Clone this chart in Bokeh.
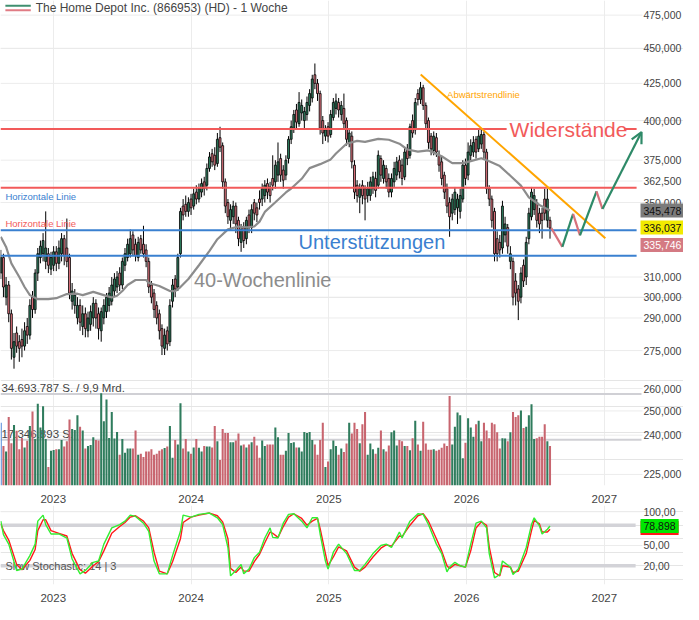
import numpy as np
import pandas as pd
from bokeh.plotting import figure
from bokeh.layouts import column
from bokeh.models import (Range1d, FixedTicker, CustomJSTickFormatter, Label,
                          Arrow, OpenHead)
from bokeh.embed import file_html
from bokeh.resources import INLINE
from bokeh.core.properties import value

# ---------------- data ----------------
week_start = "2022-08-15"
n_weeks = 209

opens = [312,320,300,306,292,272,283,279,280,277, 286,282,300,294,312,320,322,318,322,314,
         316,323,317,322,330,325,320,298,296,290, 296,286,292,284,287,290,297,292,284,290,
         293,296,298,303,305,312,306,316,320,322, 332,327,320,330,327,324,318,306,302,296,
         292,285,276,284,279,298,309,305,322,348, 349,345,352,348,356,352,356,362,360,370,
         379,378,373,389,384,362,350,340,342,348, 340,328,336,330,343,336,350,347,352,352,
         354,361,359,364,362,366,376,369,366,376, 388,395,407,398,405,400,404,410,415,431,
         425,418,400,390,396,391,402,408,412,404, 408,400,386,390,372,360,353,360,358,354,
         354,358,364,360,376,364,370,364,356,362, 366,375,372,365,382,378,400,394,418,414,
         422,410,400,390,381,389,378,374,366,358, 350,344,346,347,345,352,372,366,378,380,
         388,382,385,391,380,358,352,345,330,328, 325,332,336,318,318,308,304,300,316,310,
         330,342,346,350,344,344,352,340,340]
highs = [324,322,310,308,294,283,286,282,285,288, 290,299,303,314,325,329,333,345,325,323,
         326,326,329,333,332,341,322,307,304,300, 299,296,295,293,296,300,299,295,295,299,
         302,305,310,312,313,315,320,325,330,335, 334,330,331,332,337,327,320,308,304,298,
         294,287,285,286,299,309,311,322,347,352, 354,353,355,358,360,361,364,365,373,380,
         382,383,392,396,386,364,352,349,351,350, 342,338,339,342,346,349,352,350,357,361,
         363,364,362,378,375,386,379,372,378,390, 400,407,411,419,414,409,416,421,431,439,
         428,420,403,397,399,407,415,418,415,413, 418,402,395,393,375,363,361,363,360,362,
         365,368,368,381,378,375,372,367,367,374, 377,378,376,383,385,398,404,415,421,426,
         424,412,402,392,393,392,381,377,368,361, 353,355,359,355,358,375,376,386,388,390,
         390,394,395,393,382,360,354,347,334,332, 351,342,338,326,320,312,306,315,319,331,
         347,359,358,352,347,347,358,358,342]
lows = [309,300,296,288,271,267,274,270,272,275, 278,280,290,292,308,317,318,314,312,311,
        313,313,314,318,316,315,299,294,292,287, 284,282,281,281,284,286,285,280,279,287,
        290,293,296,300,302,303,304,313,318,320, 321,318,318,322,320,315,302,297,290,287,
        280,273,273,275,277,295,300,303,320,340, 342,342,343,346,349,350,353,354,357,368,
        371,369,371,380,358,344,338,335,338,333, 326,323,325,327,333,333,340,339,346,348,
        350,352,350,357,358,362,362,358,363,373, 385,392,395,396,400,395,400,406,412,421,
        413,391,385,387,386,389,400,404,402,400, 395,384,383,370,352,350,344,349,340,350,
        351,355,353,358,362,361,358,353,353,359, 363,364,360,363,372,376,389,391,410,411,
        407,394,382,378,378,377,368,360,352,344, 331,340,343,338,341,350,360,363,375,377,
        376,380,382,376,355,348,336,318,318,320, 322,328,322,314,296,296,289,297,305,306,
        327,340,343,336,333,330,340,336,330]
closes = [320,305,306,292,276,279,277,276,277,284, 282,296,294,312,322,326,329,325,316,320,
          323,317,325,330,321,318,302,303,301,296, 288,292,285,290,293,297,290,285,293,296,
          300,302,306,309,310,306,318,322,327,330, 324,321,328,324,322,318,305,300,294,290,
          284,277,282,278,296,306,304,320,345,343, 345,350,347,355,352,358,361,358,370,377,
          374,372,388,383,362,348,342,346,348,338, 330,335,329,340,336,346,344,343,350,358,
          360,356,354,360,372,374,366,363,375,388, 396,404,399,412,410,406,412,418,428,425,
          418,395,392,394,390,404,412,413,407,410, 398,388,392,374,356,354,358,354,352,358,
          362,365,357,378,366,372,362,356,364,370, 374,368,364,380,376,396,392,412,414,422,
          410,398,386,382,390,380,372,364,356,348, 342,352,356,352,354,372,364,380,384,386,
          380,390,391,380,358,352,340,322,322,324, 348,338,326,322,300,302,298,312,308,328,
          344,356,354,340,338,340,344,352,335.746]
volumes_m = [23.8,15.0,12.9,26.0,16.0,23.0,20.8,13.8,18.0,14.4, 17.0,22.6,28.1,17.6,31.0,22.0,30.1,17.6,7.0,13.2,
             13.5,13.8,13.8,17.3,14.8,16.8,25.0,21.4,21.1,26.7, 22.3,20.9,14.0,15.0,15.4,18.3,17.3,17.1,35.0,24.4,
             32.6,18.0,27.9,17.8,20.3,11.7,17.6,12.4,14.0,14.0, 14.0,20.9,11.7,12.0,10.8,12.9,12.9,13.8,11.7,12.0,
             13.2,13.8,14.2,14.8,22.6,10.5,17.3,15.6,31.2,14.0, 17.6,12.9,12.0,14.4,17.6,14.3,12.9,15.0,14.8,14.8,
             14.4,22.6,16.8,9.7,21.4,19.9,19.9,16.4,16.4,17.1, 19.7,15.2,15.6,14.4,15.6,16.4,18.5,15.2,10.5,17.1,
             15.0,15.6,15.6,15.6,22.0,18.3,11.7,11.7,13.2,19.9, 16.1,16.4,14.4,14.4,12.9,20.3,19.9,20.3,17.3,15.6,
             11.7,17.3,23.8,7.0,9.1,13.8,17.1,15.0,11.7,14.0, 12.7,15.9,23.8,19.7,23.8,21.4,16.0,23.2,27.9,11.7,
             15.9,13.8,12.0,14.3,20.9,13.8,12.9,15.2,20.2,20.9, 15.2,17.3,16.8,15.0,15.0,13.4,17.9,24.6,15.6,13.2,
             24.2,15.9,13.6,13.6,13.8,13.2,13.6,14.3,15.9,15.0, 34.0,15.6,22.3,27.7,26.7,10.3,16.2,25.5,22.0,18.5,
             23.2,24.6,16.8,23.8,20.9,17.9,23.8,23.2,20.2,14.0, 17.9,17.8,16.8,20.2,27.9,26.0,26.7,28.5,21.8,22.3,
             26.7,30.8,17.6,17.9,18.5,18.5,23.2,16.8,15.0]

ma_weeks = [0,2,4,7,9,11,14,18,21,25, 29,31,35,39,42,44,46,48,51,55, 56,60,64,66,68,71,75,79,82,86,
            90,93,96,98,100,104,108,110,114,117, 121,125,127,131,135,138,143,147,151,154,
            158,162,163,167,171,175,178,182,185,189, 193,197,200,204,208]
ma_values = [331,325.6,317,310,305,301,299,299,299.5,301.5, 301.7,301,302.6,301,299.8,300.7,303,306,308.5,308.5,
             307,305.5,303,303,305,309,316,323.5,329.7,335, 336.6,336.1,336.6,339.3,344.7,350.2,355.8,358.1,363.8,370.2,
             372.6,375.5,379.1,385.2,387,386.4,388.3,387.7,385.2,381.6, 380.3,381,380.3,377.4,373.2,373.2,374.4,376.2,374.4,371.4,
             365.6,359.8,353,348.6,345.478]

stoch_weeks = [0,1,3,6,8,11,13,14,16,17, 19,22,25,27,30,32,35,37,39,42, 45,47,49,51,54,56,58,60,63,65,
               68,69,72,75,79,82,84,86,87,89, 91,92,94,96,98,100,102,103,105,107, 109,111,114,116,118,120,121,123,124,126,
               128,131,134,136,138,141,144,146,148,151, 152,155,158,160,162,165,167,169,170,172,
               174,176,178,180,182,184,185,187,189,190, 193,194,196,199,201,202,204,205,207,208]
stoch_k = [86,66,52,13,15,35,52,86,95,81, 67,67,61,30,8,13,25,27,52,76, 81,86,95,93,83,71,27,8,8,35,
           71,95,92,96,98,91,81,47,5,13, 22,8,15,32,40,61,76,62,61,83, 96,97,86,76,91,91,67,27,15,40,
           52,38,13,13,22,38,50,52,47,70, 61,86,97,96,81,52,38,11,18,25, 20,18,52,83,86,76,38,2,7,27,
           18,7,15,47,81,91,79,67,74,78.898]
stoch_d = [82,72,58,22,14,28,44,72,88,88, 72,68,64,38,14,9,20,26,42,68, 78,84,92,94,86,76,40,12,8,26,
           60,84,92,95,98,94,85,60,16,10, 18,12,12,26,37,54,70,68,62,78, 92,97,90,80,86,90,75,38,20,33,
           48,42,18,12,18,33,46,51,49,64, 63,80,94,97,86,60,42,20,16,22, 20,18,42,76,85,80,48,10,5,20,
           18,10,12,38,72,87,82,70,70,74]

resistance_levels = [394.5, 358.5]
support_levels = [334.5, 321.0]
trend_years = [2025.667, 2027.007]
trend_prices = [431.2, 330.2]
proj_years = [2026.615, 2026.695, 2026.773, 2026.823, 2026.943, 2026.986, 2027.270]
proj_prices = [335.7, 325.6, 343.6, 331.8, 356.4, 346.4, 392.6]

price_ticks = [275, 290, 300, 310, 350, 362.5, 375, 400, 425, 450, 475]
price_tick_labels = ["275,000", "290,000", "300,000", "310,000", "350,000", "362,500",
                     "375,000", "400,000", "425,000", "450,000", "475,000"]
vol_tick_values_m = [36.8, 28.3, 19.1, 4.2]
vol_tick_labels = ["260,000", "250,000", "240,000", "225,000"]
stoch_ticks = [100, 50, 20]
stoch_tick_labels = ["100,00", "50,00", "20,00"]
year_ticks = [2023, 2024, 2025, 2026, 2027]

last_price = 336.037
last_close = 335.746
ma_last = 345.478
stoch_last = 78.898
vol_ref = 34693787

# ---------------- helpers ----------------
FONT = "Liberation Sans"
X0 = 2022.617
XE = X0 + 699 / 141.0        # frame spans the full width, like the reference
def rx(px):  # reference pixel -> decimal year
    return X0 + px / 141.0
def rp(py):  # reference pixel -> price (log scale)
    return 475.0 * np.exp(-(py - 15) / 630.0)

dates = pd.date_range(week_start, periods=n_weeks, freq="7D")
xs = np.array(dates.year + (dates.dayofyear - 1) / np.where(dates.is_leap_year, 366.0, 365.0))
wk = 7 / 365.25

G, R = "#2e7d5e", "#dd727c"
VG, VR = "#2f7c5d", "#c8656f"
RED_L, BLUE_L = "#f25a5a", "#3a80d0"
TXT = "#444444"
GRID = "#ececec"

o = np.array(opens, float); c = np.array(closes, float)
h = np.array(highs, float); l = np.array(lows, float)
up = c >= o
cand_col = [G if u else R for u in up]
vol_col = [VG if u else VR for u in up]
vol_col[0] = "#5f93dc"

xr = Range1d(X0, XE)
X_LINE_END = rx(657)

def style(p):
    p.outline_line_color = None
    p.background_fill_color = "white"
    p.border_fill_color = "white"
    p.xgrid.ticker = FixedTicker(ticks=year_ticks)
    p.xgrid.grid_line_color = GRID
    ax = p.xaxis[0]
    ax.ticker = FixedTicker(ticks=year_ticks)
    ax.formatter = CustomJSTickFormatter(code="return tick.toFixed(0);")
    ax.axis_line_color = None
    ax.major_tick_line_color = None
    ax.minor_tick_line_color = None
    ax.major_label_standoff = 3
    ax.major_label_text_font = FONT
    ax.major_label_text_font_size = "11.5px"
    ax.major_label_text_color = TXT

def hgrid(p, ys):
    n = len(ys)
    p.segment(x0=[X0] * n, y0=ys, x1=[X_LINE_END] * n, y1=ys, line_color=GRID, line_width=1)

def ticklabels(p, ys, labels):
    p.text(x=[rx(658)] * len(ys), y=ys, text=labels, text_font=value(FONT),
           text_font_size="10.5px", text_color=TXT, text_baseline="middle", text_align="left")

def box(p, y, text, bg, fg):
    p.add_layout(Label(x=rx(655), y=y, text=text, text_align="left",
                       text_baseline="middle", text_font=FONT, text_font_size="10.5px",
                       text_color=fg, background_fill_color=bg, padding=3))

common = dict(width=683, x_range=xr, toolbar_location=None, output_backend="svg",
              y_axis_location=None, min_border_left=0, min_border_right=0,
              min_border_top=0, min_border_bottom=0)

# ---------------- price panel ----------------
p1 = figure(height=378, y_range=Range1d(rp(388), rp(0)), y_axis_type="log", **common)
style(p1)
p1.xaxis.visible = False
hgrid(p1, price_ticks)

p1.segment(x0=xs, y0=l, x1=xs, y1=h, line_color="black", line_width=1)
p1.vbar(x=xs, width=0.74 * wk, top=np.maximum(o, c), bottom=np.minimum(o, c),
        fill_color=cand_col, line_color="black", line_width=0.8)

p1.line([xs[w] for w in ma_weeks], ma_values, line_color="#8c8c8c", line_width=2.2)

# horizontal levels
p1.segment(x0=[X0, rx(638)], y0=[resistance_levels[0]] * 2, x1=[rx(518), rx(651)],
           y1=[resistance_levels[0]] * 2, line_color=RED_L, line_width=2)
p1.segment(x0=[X0], y0=[resistance_levels[1]], x1=[rx(651)], y1=[resistance_levels[1]],
           line_color=RED_L, line_width=2)
p1.segment(x0=[X0, X0], y0=support_levels, x1=[rx(651)] * 2, y1=support_levels,
           line_color=BLUE_L, line_width=2)

# trendline
p1.line(trend_years, trend_prices, line_color="#ffa500", line_width=2)

# projection path
seg_cols = ["#d7727c", "#2e8a68", "#d7727c", "#2e8a68", "#d7727c"]
p1.segment(x0=proj_years[:5], y0=proj_prices[:5], x1=proj_years[1:6], y1=proj_prices[1:6],
           line_color=seg_cols, line_width=2.2)
p1.add_layout(Arrow(end=OpenHead(size=11, line_color="#2e8a68", line_width=2.2),
                    x_start=proj_years[5], y_start=proj_prices[5],
                    x_end=proj_years[6], y_end=proj_prices[6],
                    line_color="#2e8a68", line_width=2.2))

def ptext(x, y, t, size, color, align="left"):
    p1.text(x=[x], y=[y], text=[t], text_font=value(FONT), text_font_size=size,
            text_color=color, text_baseline="middle", text_align=align)

ptext(rx(5), rp(201), "Horizontale Linie", "9.5px", BLUE_L)
ptext(rx(5), rp(229), "Horizontale Linie", "9.5px", RED_L)
ptext(rx(305), rp(248), "Unterstützungen", "20px", BLUE_L)
ptext(rx(198), rp(287), "40-Wochenlinie", "20px", "#8c8c8c")
ptext(rx(457), rp(96), "Abwärtstrendlinie", "9.5px", "#ffa500")
ptext(rx(521), rp(132), "Widerstände", "21px", RED_L)

# legend
p1.segment(x0=[rx(5)], y0=[rp(5.5)], x1=[rx(31)], y1=[rp(5.5)], line_color="#3f8f6f", line_width=2)
p1.segment(x0=[rx(5)], y0=[rp(10)], x1=[rx(31)], y1=[rp(10)], line_color="#e07b84", line_width=2)
ptext(rx(36), rp(8), "The Home Depot Inc. (866953) (HD) - 1 Woche", "12px", TXT)

ticklabels(p1, price_ticks, price_tick_labels)
box(p1, ma_last, "345,478", "#7b7b7b", "#111111")
box(p1, last_price, "336,037", "#f2ea00", "#111111")
box(p1, rp(251), "335,746", "#d47a83", "#ffffff")

# ---------------- volume panel ----------------
vol_top = 40.6e6
p2 = figure(height=127, y_range=Range1d(0, vol_top), **common)
style(p2)
hgrid(p2, [v * 1e6 for v in vol_tick_values_m])
p2.segment(x0=[X0, X0], y0=[vol_ref, vol_ref / 2], x1=[rx(656)] * 2, y1=[vol_ref, vol_ref / 2],
           line_color="#d0d0d5", line_width=2)
p2.text(x=[rx(1)], y=[vol_ref], text=["34.693.787 S. / 9,9 Mrd."], text_font=value(FONT),
        text_font_size="11.5px", text_color=TXT, text_baseline="bottom")
p2.text(x=[rx(1)], y=[vol_ref / 2], text=["17.346.893 S."], text_font=value(FONT),
        text_font_size="11.5px", text_color=TXT, text_baseline="bottom")
p2.vbar(x=xs, width=0.78 * wk, top=np.array(volumes_m) * 1e6, bottom=0,
        fill_color=vol_col, line_color=None)
ticklabels(p2, [v * 1e6 for v in vol_tick_values_m], vol_tick_labels)

# ---------------- stochastic panel ----------------
p3 = figure(height=99, y_range=Range1d(-7.8, 109.2), **common)
style(p3)
hgrid(p3, [100, 50])
p3.segment(x0=[X0, X0], y0=[80, 20], x1=[rx(650)] * 2, y1=[80, 20],
           line_color="#d3d3d8", line_width=3.5)
p3.text(x=[rx(5)], y=[20], text=["Slow Stochastic: 14 | 3"], text_font=value(FONT),
        text_font_size="11px", text_color="#555555", text_baseline="middle")
sx = [xs[w] for w in stoch_weeks]
p3.line(sx, stoch_d, line_color="#ff1a1a", line_width=1.4)
p3.line(sx, stoch_k, line_color="#33ee33", line_width=1.4)
ticklabels(p3, stoch_ticks, stoch_tick_labels)
box(p3, stoch_last - 3.0, "78,898", "#ff1a1a", "#ff1a1a")
box(p3, stoch_last, "78,898", "#00e600", "#111111")

layout = column(p1, p2, p3)
open("out.html", "w").write(file_html(layout, INLINE))
